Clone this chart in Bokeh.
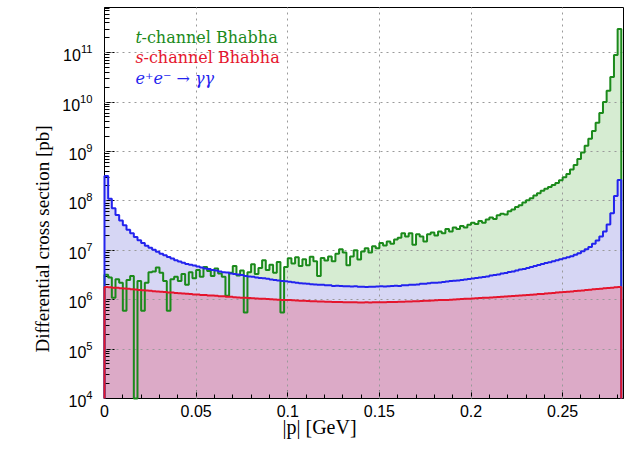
import numpy as np
from bokeh.plotting import figure
from bokeh.models import FixedTicker, Label, Range1d, LogTickFormatter, Title
from bokeh.embed import file_html
from bokeh.resources import INLINE

# ---------------- data ----------------
p_lo, p_hi, n_bins = 0.0, 0.282, 141      # |p| histogram binning [GeV]

x_ticks = [0.0, 0.05, 0.10, 0.15, 0.20, 0.25]
x_tick_labels = ["0", "0.05", "0.1", "0.15", "0.2", "0.25"]
y_ticks = [1e4, 1e5, 1e6, 1e7, 1e8, 1e9, 1e10, 1e11]

# s-channel Bhabha (red)
s_bhabha = [
    1.80e6, 1.78e6, 1.75e6, 1.74e6, 1.70e6, 1.68e6, 1.66e6, 1.62e6, 1.60e6, 1.57e6,
    1.55e6, 1.53e6, 1.51e6, 1.49e6, 1.46e6, 1.45e6, 1.43e6, 1.40e6, 1.39e6, 1.37e6,
    1.35e6, 1.33e6, 1.32e6, 1.30e6, 1.28e6, 1.27e6, 1.25e6, 1.24e6, 1.22e6, 1.21e6,
    1.20e6, 1.18e6, 1.17e6, 1.15e6, 1.14e6, 1.12e6, 1.11e6, 1.10e6, 1.09e6, 1.08e6,
    1.07e6, 1.06e6, 1.05e6, 1.04e6, 1.03e6, 1.02e6, 1.01e6, 1.00e6, 0.99e6, 0.98e6,
    0.98e6, 0.97e6, 0.96e6, 0.95e6, 0.95e6, 0.94e6, 0.93e6, 0.93e6, 0.92e6, 0.92e6,
    0.91e6, 0.91e6, 0.90e6, 0.90e6, 0.90e6, 0.89e6, 0.89e6, 0.89e6, 0.89e6, 0.88e6,
    0.88e6, 0.89e6, 0.88e6, 0.89e6, 0.89e6, 0.89e6, 0.89e6, 0.90e6, 0.90e6, 0.90e6,
    0.91e6, 0.91e6, 0.92e6, 0.92e6, 0.93e6, 0.93e6, 0.94e6, 0.95e6, 0.95e6, 0.96e6,
    0.97e6, 0.98e6, 0.98e6, 0.99e6, 1.00e6, 1.01e6, 1.02e6, 1.03e6, 1.04e6, 1.05e6,
    1.06e6, 1.07e6, 1.08e6, 1.09e6, 1.10e6, 1.11e6, 1.12e6, 1.13e6, 1.15e6, 1.16e6,
    1.17e6, 1.19e6, 1.20e6, 1.22e6, 1.23e6, 1.25e6, 1.26e6, 1.28e6, 1.30e6, 1.31e6,
    1.33e6, 1.35e6, 1.37e6, 1.39e6, 1.41e6, 1.43e6, 1.45e6, 1.47e6, 1.50e6, 1.52e6,
    1.54e6, 1.57e6, 1.59e6, 1.62e6, 1.64e6, 1.67e6, 1.70e6, 1.72e6, 1.75e6, 1.78e6,
    1.80e6,
]

# e+e- -> gamma gamma (blue)
gamma_gamma = [
    3.2e8, 1.1e8, 7.1e7, 5.2e7, 4.0e7, 3.2e7, 2.6e7, 2.2e7, 1.85e7, 1.6e7,
    1.4e7, 1.24e7, 1.12e7, 1.02e7, 9.3e6, 8.5e6, 7.9e6, 7.3e6, 6.8e6, 6.3e6,
    5.9e6, 5.6e6, 5.3e6, 5.1e6, 4.9e6, 4.7e6, 4.5e6, 4.3e6, 4.2e6, 4.0e6,
    3.9e6, 3.7e6, 3.6e6, 3.55e6, 3.4e6, 3.3e6, 3.25e6, 3.15e6, 3.0e6, 2.95e6,
    2.9e6, 2.8e6, 2.75e6, 2.7e6, 2.65e6, 2.55e6, 2.5e6, 2.45e6, 2.4e6, 2.35e6,
    2.3e6, 2.25e6, 2.2e6, 2.15e6, 2.13e6, 2.1e6, 2.05e6, 2.04e6, 2.0e6, 2.0e6,
    1.95e6, 1.96e6, 1.9e6, 1.92e6, 1.9e6, 1.86e6, 1.87e6, 1.85e6, 1.86e6, 1.82e6,
    1.83e6, 1.81e6, 1.83e6, 1.82e6, 1.85e6, 1.86e6, 1.85e6, 1.87e6, 1.9e6, 1.91e6,
    1.9e6, 1.95e6, 1.96e6, 2.0e6, 2.0e6, 2.04e6, 2.09e6, 2.1e6, 2.14e6, 2.19e6,
    2.2e6, 2.24e6, 2.29e6, 2.34e6, 2.4e6, 2.42e6, 2.45e6, 2.51e6, 2.57e6, 2.63e6,
    2.69e6, 2.75e6, 2.82e6, 2.88e6, 2.95e6, 3.09e6, 3.16e6, 3.24e6, 3.39e6, 3.47e6,
    3.63e6, 3.72e6, 3.89e6, 4.07e6, 4.17e6, 4.37e6, 4.57e6, 4.79e6, 5.01e6, 5.25e6,
    5.5e6, 5.75e6, 6.03e6, 6.31e6, 6.61e6, 6.92e6, 7.24e6, 7.59e6, 8.13e6, 8.71e6,
    9.55e6, 1.05e7, 1.17e7, 1.35e7, 1.58e7, 1.91e7, 2.4e7, 3.31e7, 5.62e7, 1.26e8,
    2.63e8,
]

# t-channel Bhabha (green); one empty bin
t_bhabha = [
    3.2e6, 2.8e6, 1.1e6, 2.6e6, 2.2e6, 6.0e5, 2.5e6, 3.0e6, 0.0, 2.4e6,
    6.0e5, 2.2e6, 3.6e6, 3.7e6, 4.5e6, 3.5e6, 2.4e6, 6.0e5, 2.6e6, 2.9e6,
    2.4e6, 3.3e6, 2.0e6, 3.6e6, 2.7e6, 4.0e6, 2.9e6, 4.6e6, 3.8e6, 3.0e6,
    4.3e6, 3.4e6, 2.9e6, 1.2e6, 3.5e6, 4.8e6, 3.1e6, 3.9e6, 5.5e5, 3.6e6,
    5.2e6, 3.3e6, 4.4e6, 6.3e6, 4.0e6, 5.1e6, 3.5e6, 5.8e6, 5.5e5, 4.6e6,
    6.9e6, 5.4e6, 7.2e6, 4.8e6, 6.6e6, 5.0e6, 7.4e6, 6.0e6, 3.0e6, 7.0e6,
    6.2e6, 7.5e6, 6.0e6, 8.5e6, 1.05e7, 9.0e6, 5.0e6, 7.5e6, 1.0e7, 6.5e6,
    9.5e6, 1.1e7, 9.0e6, 1.2e7, 1.1e7, 1.4e7, 1.25e7, 1.5e7, 1.35e7, 1.65e7,
    1.8e7, 2.2e7, 1.9e7, 2.2e7, 1.3e7, 2.1e7, 1.9e7, 1.5e7, 2.1e7, 2.3e7,
    2.0e7, 2.4e7, 2.2e7, 2.7e7, 2.4e7, 2.9e7, 2.7e7, 3.1e7, 2.9e7, 3.3e7,
    3.6e7, 3.4e7, 3.9e7, 3.6e7, 4.2e7, 4.6e7, 4.3e7, 5.1e7, 5.5e7, 5.3e7,
    6.2e7, 6.7e7, 7.5e7, 8.2e7, 9.3e7, 1.03e8, 1.13e8, 1.28e8, 1.43e8, 1.6e8,
    1.75e8, 1.9e8, 2.1e8, 2.3e8, 2.6e8, 3.0e8, 3.5e8, 4.3e8, 5.3e8, 7.0e8,
    9.5e8, 1.3e9, 1.8e9, 2.6e9, 3.8e9, 6.0e9, 1.0e10, 1.7e10, 3.2e10, 9.0e10,
    3.0e11,
]

# ---------------- figure ----------------
Y_MIN, Y_MAX = 1e4, 8.2e11

edges = np.linspace(p_lo, p_hi, n_bins + 1)

p = figure(width=633, height=449, y_axis_type="log",
           x_range=Range1d(0.0, 0.2832), y_range=Range1d(Y_MIN, Y_MAX),
           output_backend="svg", toolbar_location=None,
           min_border_left=104, min_border_right=10,
           min_border_top=7, min_border_bottom=51)
p.background_fill_color = "white"
p.border_fill_color = "white"
p.outline_line_color = "black"
p.outline_line_width = 1

series = [
    (t_bhabha, "#d6ecd2", "#1b8a1b"),
    (gamma_gamma, "#d6d6f4", "#2323ee"),
    (s_bhabha, "#dcaac7", "#e5152d"),
]

def clip(vals):
    # empty bins are drawn at the bottom edge of the log axis
    v = np.asarray(vals, dtype=float)
    return np.where(v > Y_MIN, v, Y_MIN)

# fills (green, then blue, then red on top)
for vals, fill, _ in series:
    v = clip(vals)
    p.varea_step(x=edges, y1=np.full(len(edges), Y_MIN),
                 y2=np.concatenate([v, v[-1:]]), step_mode="after",
                 fill_color=fill, fill_alpha=1.0)

# outlines
for vals, _, line in series:
    v = clip(vals)
    xs = np.concatenate([edges[:1], edges])
    ys = np.concatenate([[Y_MIN], v, [Y_MIN]])
    r = p.step(xs, ys, mode="after", line_color=line, line_width=2)
    r.level = "annotation"

# axes
minor_y = [k * 10.0 ** n for n in range(4, 12) for k in range(2, 10)]
p.yaxis.ticker = FixedTicker(ticks=y_ticks, minor_ticks=minor_y)
p.yaxis.formatter = LogTickFormatter()
p.xaxis.ticker = FixedTicker(ticks=x_ticks,
                             minor_ticks=[round(0.01 * i, 3) for i in range(0, 29)])
p.xaxis.major_label_overrides = {t: s for t, s in zip(x_ticks, x_tick_labels)}

for ax in (p.xaxis, p.yaxis):
    ax.major_tick_out = 0
    ax.minor_tick_out = 0
    ax.axis_line_color = "black"
    ax.major_tick_line_color = "black"
    ax.minor_tick_line_color = "black"
    ax.major_label_text_font = "Liberation Sans"
    ax.major_label_text_font_size = "16px"
    ax.major_label_text_color = "black"
p.yaxis.major_tick_in = 10
p.yaxis.minor_tick_in = 5
p.xaxis.major_tick_in = 8
p.xaxis.minor_tick_in = 4
p.yaxis.major_label_standoff = 12
p.xaxis.major_label_standoff = 6

for g in (p.xgrid, p.ygrid):
    g.grid_line_color = "#9a9a9a"
    g.grid_line_dash = "dotted"
    g.grid_line_width = 1
    g.level = "guide"
p.xgrid.ticker = FixedTicker(ticks=x_ticks)
p.ygrid.ticker = FixedTicker(ticks=y_ticks)

# axis titles as side-panel titles (placed like the reference)
p.add_layout(Title(text="|p| [GeV]", align="left", offset=178,
                   vertical_align="top",
                   text_font="Liberation Serif", text_font_size="20px",
                   text_font_style="normal", text_color="black",
                   standoff=-8), "below")
p.add_layout(Title(text="Differential cross section [pb]", align="left", offset=46,
                   text_font="Liberation Serif", text_font_size="19px",
                   text_font_style="normal", text_color="black",
                   standoff=14), "left")

# legend (screen units relative to the frame's bottom-left corner)
def lab(text, x, y, color, style="normal"):
    p.add_layout(Label(x=x, y=y, x_units="screen", y_units="screen", text=text,
                       text_color=color, text_font_size="16px", text_font="DejaVu Serif",
                       text_font_style=style, text_align="left",
                       text_baseline="alphabetic"))

lab("t", 31, 361, "#1b8a1b", "italic")
lab("-channel Bhabha", 37, 361, "#1b8a1b")
lab("s", 31, 341, "#e5152d", "italic")
lab("-channel Bhabha", 39, 341, "#e5152d")
lab("e\u207ae\u207b \u2192 \u03b3\u03b3", 31, 320, "#2323ee", "italic")

open("out.html", "w").write(file_html(p, INLINE))
